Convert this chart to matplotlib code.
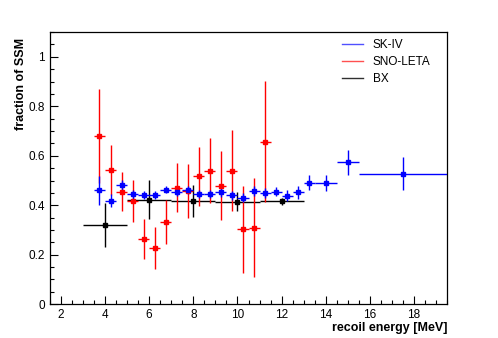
import matplotlib
matplotlib.use("Agg")
import matplotlib.pyplot as plt
from matplotlib.ticker import MultipleLocator
from matplotlib.lines import Line2D
import numpy as np

plt.rcParams['font.family'] = ['Liberation Sans', 'DejaVu Sans']

# SK-IV
sk_lo = [3.5, 4.0, 4.5, 5.0, 5.5, 6.0, 6.5, 7.0, 7.5, 8.0, 8.5, 9.0, 9.5, 10.0, 10.5, 11.0, 11.5, 12.0, 12.5, 13.0, 13.5, 14.5, 15.5]
sk_hi = [4.0, 4.5, 5.0, 5.5, 6.0, 6.5, 7.0, 7.5, 8.0, 8.5, 9.0, 9.5, 10.0, 10.5, 11.0, 11.5, 12.0, 12.5, 13.0, 13.5, 14.5, 15.5, 19.5]
sk_val = [0.461, 0.419, 0.482, 0.444, 0.441, 0.442, 0.463, 0.453, 0.460, 0.444, 0.446, 0.452, 0.441, 0.430, 0.456, 0.448, 0.455, 0.438, 0.452, 0.492, 0.491, 0.573, 0.528]
sk_err = [0.058, 0.025, 0.02, 0.018, 0.015, 0.015, 0.015, 0.015, 0.016, 0.016, 0.016, 0.017, 0.018, 0.018, 0.02, 0.02, 0.017, 0.022, 0.025, 0.031, 0.033, 0.052, 0.067]

# SNO-LETA
sno_lo = [3.5, 4.0, 4.5, 5.0, 5.5, 6.0, 6.5, 7.0, 7.5, 8.0, 8.5, 9.0, 9.5, 10.0, 10.5, 11.0]
sno_hi = [4.0, 4.5, 5.0, 5.5, 6.0, 6.5, 7.0, 7.5, 8.0, 8.5, 9.0, 9.5, 10.0, 10.5, 11.0, 11.5]
sno_val = [0.680, 0.542, 0.455, 0.416, 0.263, 0.226, 0.332, 0.471, 0.457, 0.517, 0.540, 0.479, 0.540, 0.302, 0.310, 0.657]
sno_err = [0.19, 0.10, 0.08, 0.085, 0.08, 0.085, 0.09, 0.10, 0.11, 0.12, 0.13, 0.14, 0.165, 0.176, 0.20, 0.245]

# BX
bx_lo = [3.0, 5.0, 7.0, 9.0, 11.0]
bx_hi = [5.0, 7.0, 9.0, 11.0, 13.0]
bx_val = [0.320, 0.423, 0.418, 0.415, 0.416]
bx_err = [0.09, 0.079, 0.065, 0.037, 0.015]

fig = plt.figure(figsize=(4.98, 3.38), dpi=100)
ax = fig.add_axes([0.100, 0.100, 0.798, 0.805])

def draw(lo, hi, val, err, color, label):
    lo = np.array(lo); hi = np.array(hi)
    x = (lo + hi) / 2
    ax.errorbar(x, val, xerr=(hi - lo) / 2, yerr=err, fmt='s', color=color,
                ms=2.8, lw=1, capsize=0, label=label, zorder=3)

draw(bx_lo, bx_hi, bx_val, bx_err, 'black', 'BX')
draw(sno_lo, sno_hi, sno_val, sno_err, '#ff0000', 'SNO-LETA')
draw(sk_lo, sk_hi, sk_val, sk_err, '#0000ff', 'SK-IV')

ax.set_xlim(1.5, 19.5)
ax.set_ylim(0, 1.1)
ax.xaxis.set_major_locator(MultipleLocator(2))
ax.xaxis.set_minor_locator(MultipleLocator(0.5))
ax.yaxis.set_minor_locator(MultipleLocator(0.05))
ax.tick_params(which='both', direction='in', top=False, right=False, labelsize=8.5)
ax.tick_params(which='major', length=6, width=0.8)
ax.tick_params(which='minor', length=3, width=0.8)
ax.set_yticks([0, 0.2, 0.4, 0.6, 0.8, 1.0])
ax.set_yticklabels(['0', '0.2', '0.4', '0.6', '0.8', '1'])
for s in ax.spines.values():
    s.set_linewidth(0.9)

ax.set_xlabel('recoil energy [MeV]', fontweight='bold', fontsize=9, loc='right', labelpad=1)
ax.set_ylabel('fraction of SSM', fontweight='bold', fontsize=9, loc='top', labelpad=1)
ax.yaxis.label.set_y(0.98)

handles = [Line2D([], [], color='#5050ff', lw=1),
           Line2D([], [], color='#ff5050', lw=1),
           Line2D([], [], color='#303030', lw=1)]
ax.legend(handles, ['SK-IV', 'SNO-LETA', 'BX'], loc='upper right', frameon=False,
          fontsize=8.5, handlelength=1.8, bbox_to_anchor=(0.985, 1.015), labelspacing=0.45)

fig.savefig('out.png', dpi=100)
